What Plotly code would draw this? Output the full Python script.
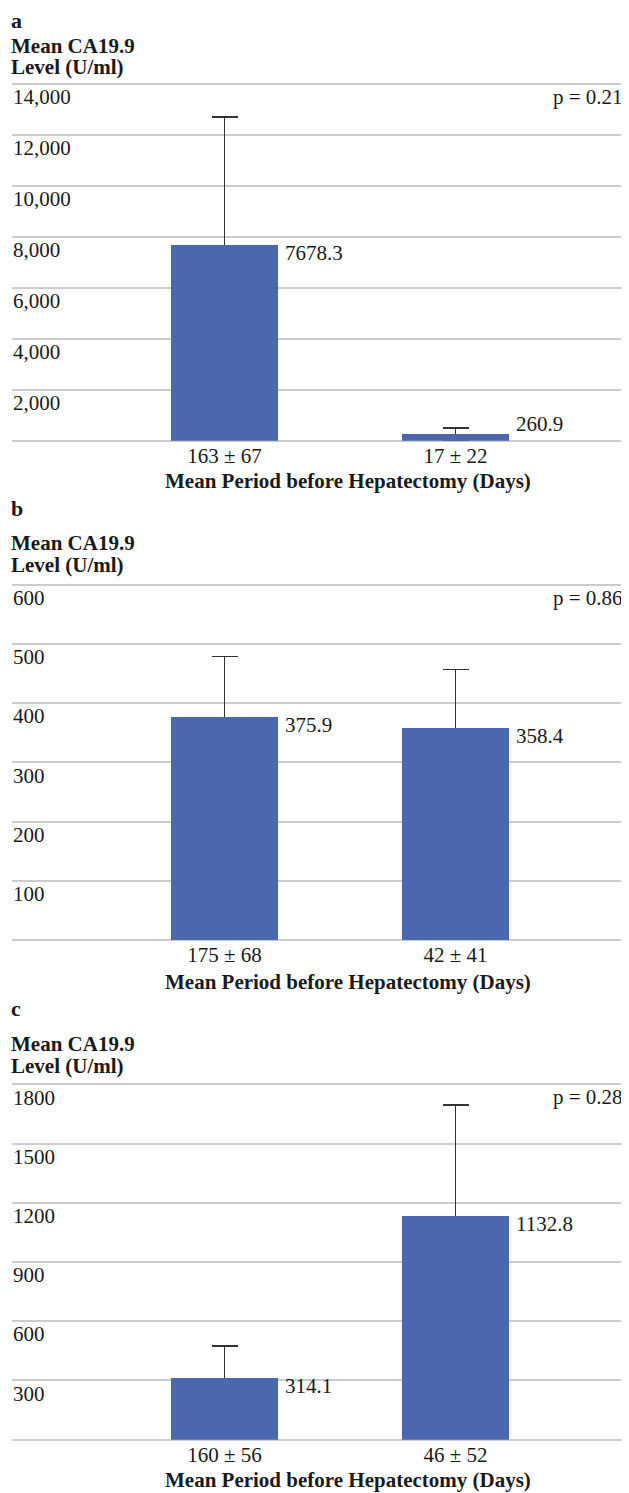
import plotly.graph_objects as go

# ---------------- data ----------------
panel_letters = ["a", "b", "c"]
cats_a = ["163 ± 67", "17 ± 22"]
cats_b = ["175 ± 68", "42 ± 41"]
cats_c = ["160 ± 56", "46 ± 52"]
vals_a = [7678.3, 260.9]
vals_b = [375.9, 358.4]
vals_c = [314.1, 1132.8]
err_a = [5020, 238]
err_b = [103, 98]
err_c = [161, 562]
p_a = "p = 0.21"
p_b = "p = 0.86"
p_c = "p = 0.28"
yticks_a = [2000, 4000, 6000, 8000, 10000, 12000, 14000]
yticks_b = [100, 200, 300, 400, 500, 600]
yticks_c = [300, 600, 900, 1200, 1500, 1800]
ymax = [14000, 600, 1800]
y_title_lines = ["Mean CA19.9", "Level (U/ml)"]
x_title = "Mean Period before Hepatectomy (Days)"

# ---------------- style / layout ----------------
OFF = 8                       # default page (body) margin of the html page
SW, SH = 629, 1493            # screen size
W, H = SW - OFF, SH - OFF     # figure size
L_SCREEN = 12                 # left edge of plot area on screen
L = L_SCREEN - OFF
PLOT_W = SW - L_SCREEN
FONT = "Liberation Serif"
FS = 21
TXT = "#1a1a1a"
BAR = "#4A67B0"
GRID = "#cccccc"

def py(px):
    """screen y pixel -> paper fraction"""
    return 1 - (px - OFF) / H

def pxx(px):
    """screen x pixel -> paper fraction"""
    return (px - L_SCREEN) / PLOT_W

# screen pixel geometry of each panel: (top gridline, baseline)
geo = [(84, 440.5), (584.7, 940), (1084.3, 1439.5)]
letter_px = [20, 508, 1008]
mean_px = [46, 543, 1044]
level_px = [67, 565, 1066]
xtitle_px = [481, 982, 1480]

panels = [
    (cats_a, vals_a, err_a, p_a, yticks_a, ",d"),
    (cats_b, vals_b, err_b, p_b, yticks_b, "d"),
    (cats_c, vals_c, err_c, p_c, yticks_c, "d"),
]

fig = go.Figure()
annotations = []
for i, (cats, vals, errs, ptxt, yt, fmt) in enumerate(panels):
    n = "" if i == 0 else str(i + 1)
    top, base = geo[i]
    ppu = (base - top) / ymax[i]
    top_ext = top - 1.5          # extend by a little so the top gridline is drawn
    ytop = ymax[i] + 1.5 / ppu
    # bars carrying the (symmetric) error bars ...
    fig.add_trace(go.Bar(
        x=cats, y=vals, xaxis="x" + n, yaxis="y" + n,
        marker=dict(color=BAR, line=dict(width=0)),
        width=0.461,
        error_y=dict(type="data", symmetric=True, array=errs,
                     color="#333333", thickness=1.5, width=13),
        showlegend=False, hoverinfo="skip",
    ))
    # ... covered by the same bars, so only the upper whisker shows
    fig.add_trace(go.Bar(
        x=cats, y=vals, xaxis="x" + n, yaxis="y" + n,
        marker=dict(color=BAR, line=dict(width=0)),
        width=0.461, showlegend=False, hoverinfo="skip",
    ))
    fig.update_layout(**{
        "xaxis" + n: dict(domain=[0, 1], anchor="y" + n, type="category",
                          range=[-0.92, 1.751], showgrid=False, showline=False,
                          ticks="", zeroline=False,
                          tickfont=dict(family=FONT, size=FS, color=TXT)),
        "yaxis" + n: dict(domain=[py(base), py(top_ext)], anchor="x" + n,
                          range=[0, ytop], tickvals=yt, tickformat=fmt,
                          showgrid=True, gridcolor=GRID, gridwidth=1.5,
                          zeroline=True, zerolinecolor=GRID, zerolinewidth=1.5,
                          showline=False, ticks="",
                          ticklabelposition="inside", ticklabelshift=13,
                          ticklabelstandoff=-2,
                          tickfont=dict(family=FONT, size=FS, color=TXT)),
    })
    # value labels
    for j, v in enumerate(vals):
        cpx = max(v * ppu - 8, 17)
        annotations.append(dict(
            x=j, y=cpx / ppu, xref="x" + n, yref="y" + n, text=f"{v}",
            showarrow=False, xanchor="left", yanchor="middle", xshift=58,
            font=dict(family=FONT, size=FS, color=TXT)))
    # p value
    annotations.append(dict(
        x=pxx(625), y=py(top + 13), xref="paper", yref="paper",
        text=ptxt, showarrow=False, xanchor="right", yanchor="middle",
        font=dict(family=FONT, size=FS, color=TXT)))
    # letter + y title
    annotations.append(dict(
        x=0, y=py(letter_px[i]), xref="paper", yref="paper",
        text="<b>" + panel_letters[i] + "</b>", showarrow=False,
        xanchor="left", yanchor="middle", xshift=-2, borderpad=0,
        font=dict(family=FONT, size=FS + 1, color=TXT)))
    for line, ypx in zip(y_title_lines, [mean_px[i], level_px[i]]):
        annotations.append(dict(
            x=0, y=py(ypx), xref="paper", yref="paper",
            text="<b>" + line + "</b>", showarrow=False,
            xanchor="left", yanchor="middle", xshift=-2, borderpad=0,
            font=dict(family=FONT, size=FS, color=TXT)))
    # x title
    annotations.append(dict(
        x=pxx(347.5), y=py(xtitle_px[i]), xref="paper", yref="paper",
        text="<b>" + x_title + "</b>", showarrow=False,
        xanchor="center", yanchor="middle",
        font=dict(family=FONT, size=FS, color=TXT)))

fig.update_layout(
    width=W, height=H, autosize=False,
    margin=dict(l=L, r=0, t=0, b=0, pad=0),
    paper_bgcolor="white", plot_bgcolor="white",
    barmode="overlay", bargap=0, annotations=annotations,
    font=dict(family=FONT, size=FS, color=TXT),
)

fig.write_html("out.html", config={"displayModeBar": False})
